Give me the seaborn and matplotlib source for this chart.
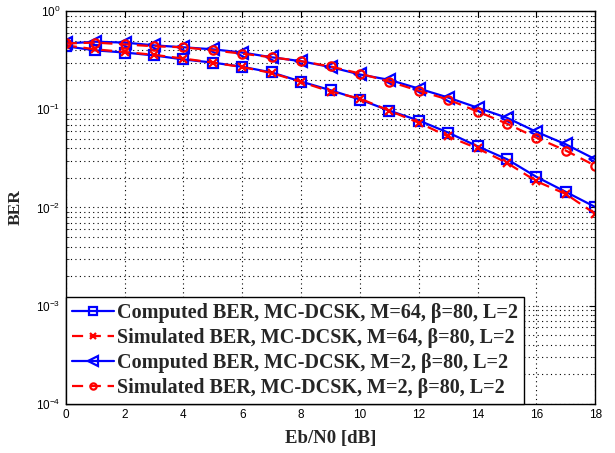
import matplotlib
matplotlib.use("Agg")
import matplotlib.pyplot as plt
import seaborn as sns
import numpy as np
import pandas as pd
from matplotlib.ticker import LogLocator, LogFormatterSciNotation, MultipleLocator, NullFormatter

snr = list(range(0, 19))
comp64 = [0.44, 0.40, 0.38, 0.355, 0.323, 0.30, 0.272, 0.238, 0.192, 0.157, 0.126, 0.097, 0.077, 0.058, 0.042, 0.031, 0.0205, 0.0144, 0.0101]
sim64 = [0.45, 0.41, 0.385, 0.36, 0.33, 0.30, 0.27, 0.235, 0.19, 0.152, 0.129, 0.097, 0.073, 0.053, 0.040, 0.0285, 0.0185, 0.0137, 0.0086]
comp2 = [0.47, 0.49, 0.48, 0.45, 0.43, 0.41, 0.38, 0.34, 0.31, 0.27, 0.227, 0.2, 0.163, 0.132, 0.104, 0.082, 0.059, 0.044, 0.031]
sim2 = [0.47, 0.48, 0.46, 0.44, 0.43, 0.40, 0.37, 0.34, 0.31, 0.274, 0.232, 0.192, 0.155, 0.126, 0.095, 0.0715, 0.0514, 0.038, 0.0266]

labels = [
    "Computed BER, MC-DCSK, M=64, \u03b2=80, L=2",
    "Simulated BER, MC-DCSK, M=64, \u03b2=80, L=2",
    "Computed BER, MC-DCSK, M=2, \u03b2=80, L=2",
    "Simulated BER, MC-DCSK, M=2, \u03b2=80, L=2",
]
series = [comp64, sim64, comp2, sim2]
BLUE = "#0000ff"
RED = "#ff0000"
styles = [
    dict(color=BLUE, linestyle="-", marker="s", markersize=7.5, mfc="none", mec=BLUE, mew=1.6, lw=1.6),
    dict(color=RED, linestyle=(0, (5, 3)), marker="x", markersize=6, mfc="none", mec=RED, mew=1.6, lw=1.6),
    dict(color=BLUE, linestyle="-", marker="<", markersize=9, mfc="none", mec=BLUE, mew=1.6, lw=1.6),
    dict(color=RED, linestyle=(0, (5, 3)), marker="o", markersize=6, mfc="none", mec=RED, mew=1.6, lw=1.6),
]

sns.set_style("white")
plt.rcParams["font.family"] = ["Liberation Sans", "DejaVu Sans"]
plt.rcParams["mathtext.default"] = "regular"

fig = plt.figure(figsize=(6.15, 4.53), dpi=100)
ax = fig.add_axes([0.107, 0.109, 0.861, 0.866])

for vals, lab, st in zip(series, labels, styles):
    df = pd.DataFrame({"x": snr, "y": vals})
    sns.lineplot(data=df, x="x", y="y", ax=ax, label=lab, **st)

ax.set_yscale("log")
ax.set_xlim(0, 18)
ax.set_ylim(1e-4, 1)
ax.xaxis.set_major_locator(MultipleLocator(2))
ax.yaxis.set_major_locator(LogLocator(base=10, numticks=10))
ax.yaxis.set_minor_locator(LogLocator(base=10, subs=np.arange(2, 10), numticks=20))
ax.yaxis.set_minor_formatter(NullFormatter())
ax.yaxis.set_major_formatter(LogFormatterSciNotation())

ax.grid(True, which="major", axis="both", color="black", linestyle=(0, (1, 3)), linewidth=0.8)
ax.grid(True, which="minor", axis="y", color="black", linestyle=(0, (1, 3)), linewidth=0.8)
ax.set_axisbelow(True)

ax.tick_params(axis="both", which="major", labelsize=8.5, direction="in", length=4, width=0.8,
               top=True, right=True, colors="black", pad=4)
ax.tick_params(axis="y", which="minor", direction="in", length=2, width=0.6, left=True, right=True)
for sp in ax.spines.values():
    sp.set_color("black")
    sp.set_linewidth(1.0)

serif = ["Liberation Serif", "DejaVu Serif"]
ax.set_xlabel("Eb/N0 [dB]", fontsize=13.5, fontweight="bold", family=serif, labelpad=6)
ax.set_ylabel("BER", fontsize=12.5, fontweight="bold", family=serif, labelpad=9)

leg = ax.legend(loc="lower left", borderaxespad=0, frameon=True, fancybox=False,
                prop={"family": serif, "weight": "bold", "size": 14.5},
                handlelength=2.1, handletextpad=0.15, borderpad=0.3, labelspacing=0.24,
                markerscale=0.75)
leg.get_frame().set_edgecolor("black")
leg.get_frame().set_linewidth(1.0)
leg.get_frame().set_alpha(1)

fig.savefig("out.png", dpi=100)
